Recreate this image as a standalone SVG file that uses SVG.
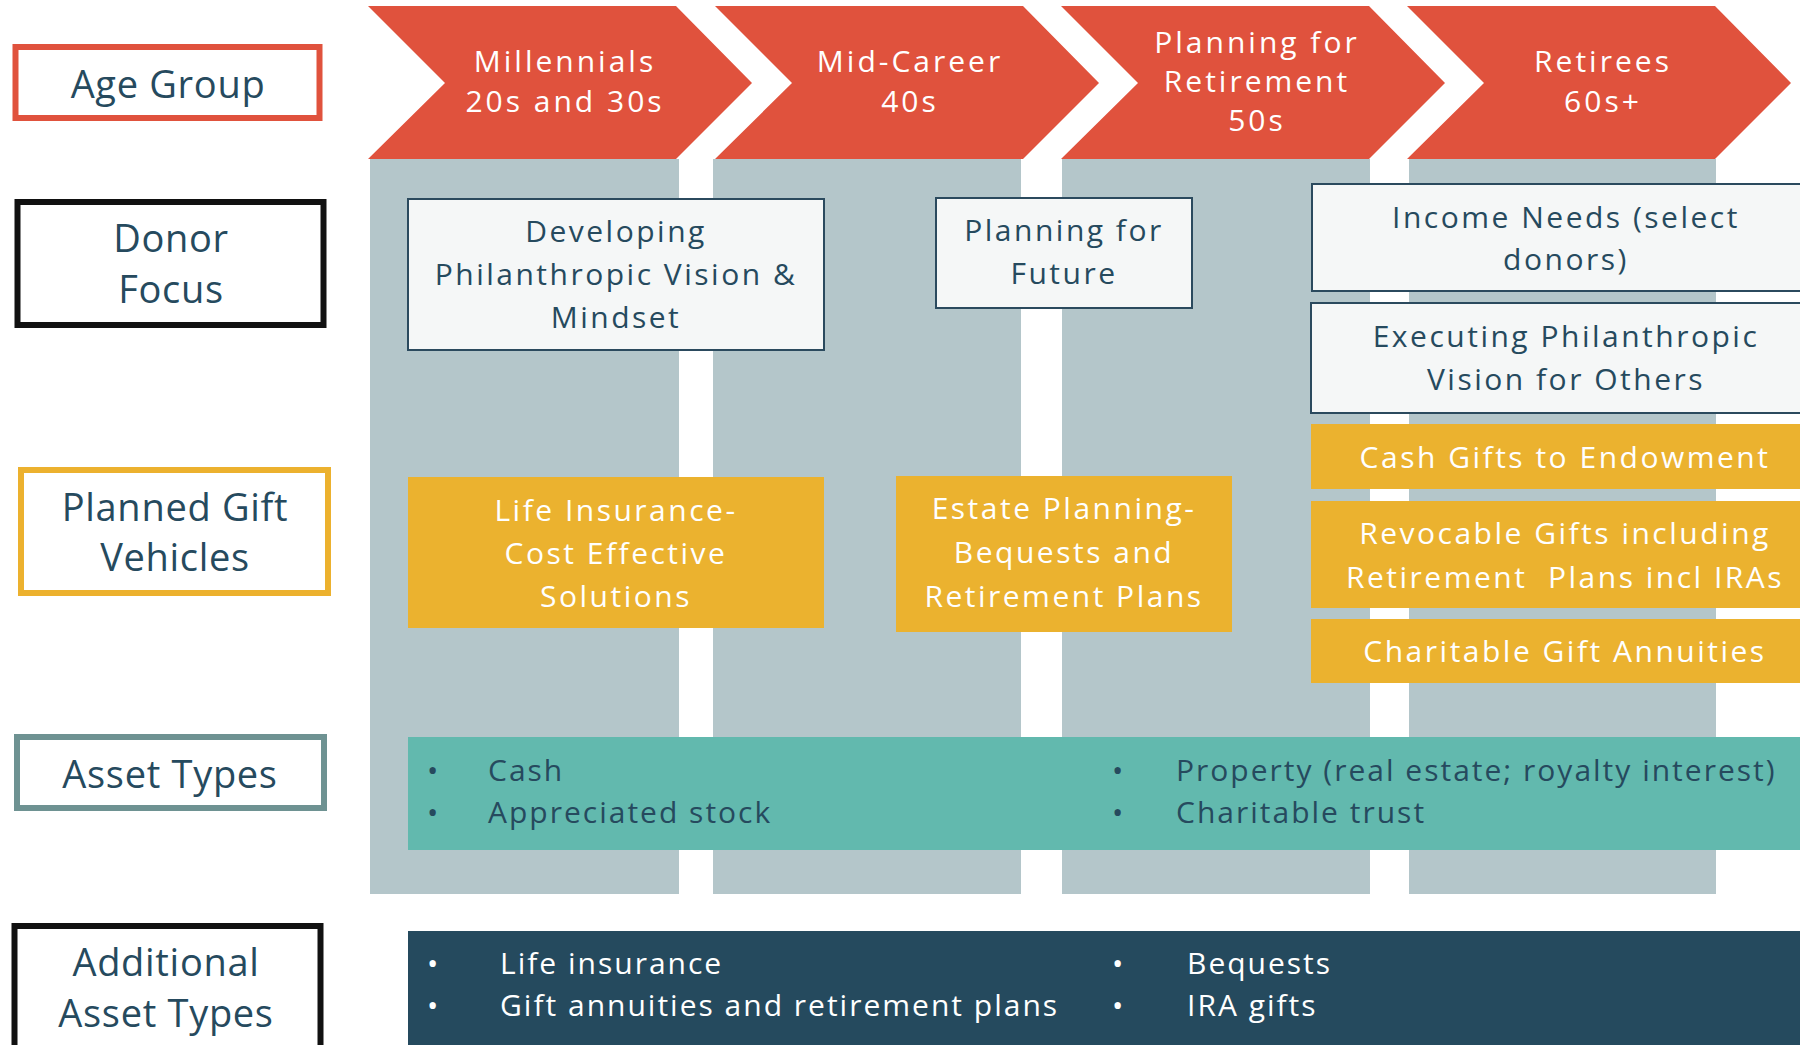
<svg xmlns="http://www.w3.org/2000/svg" width="1800" height="1045" viewBox="0 0 1800 1045">
  <style>
    text { font-family: "Open Sans", "Noto Sans", "Liberation Sans", sans-serif; text-anchor: middle; }
    .chev { fill: #E0523D; }
    .col { fill: #B4C6CA; }
    .lbl { fill: #FFFFFF; stroke-width: 6; }
    .lbl-t { font-size: 38px; fill: #264A5E; letter-spacing: 0.7px; }
    .chev-t { font-size: 30px; fill: #FFFFFF; letter-spacing: 3px; }
    .focus { fill: #F5F7F7; stroke: #2B4A5E; stroke-width: 2; }
    .focus-t { font-size: 30px; fill: #264A5E; letter-spacing: 2.5px; }
    .gift { fill: #EBB22F; }
    .gift-t { font-size: 30px; fill: #FFFFFF; letter-spacing: 2.5px; }
    .bul text { font-size: 30px; text-anchor: start; letter-spacing: 2px; }
  </style>
  <defs>
    <polygon id="chevron" points="0,6 308,6 384,83 308,159 0,159 77,83"/>
  </defs>
  <rect width="1800" height="1045" fill="#FFFFFF"/>

  <!-- age-group chevrons -->
  <g id="chevrons">
    <use href="#chevron" class="chev" x="368"/>
    <use href="#chevron" class="chev" x="715"/>
    <use href="#chevron" class="chev" x="1061"/>
    <use href="#chevron" class="chev" x="1407"/>
  </g>

  <!-- column backdrops under each chevron -->
  <g id="columns">
    <rect class="col" x="370" y="159" width="309" height="735"/>
    <rect class="col" x="713" y="159" width="308" height="735"/>
    <rect class="col" x="1062" y="159" width="308" height="735"/>
    <rect class="col" x="1409" y="159" width="307" height="735"/>
  </g>

  <g id="chevron-labels">
    <g id="age-millennials">
      <text class="chev-t" x="565" y="72">Millennials</text>
      <text class="chev-t" x="565" y="112">20s and 30s</text>
    </g>
    <g id="age-midcareer">
      <text class="chev-t" x="910" y="72">Mid-Career</text>
      <text class="chev-t" x="910" y="112">40s</text>
    </g>
    <g id="age-preretire">
      <text class="chev-t" x="1257" y="53">Planning for</text>
      <text class="chev-t" x="1257" y="92">Retirement</text>
      <text class="chev-t" x="1257" y="131">50s</text>
    </g>
    <g id="age-retirees">
      <text class="chev-t" x="1603" y="72">Retirees</text>
      <text class="chev-t" x="1603" y="112">60s+</text>
    </g>
  </g>

  <!-- row labels -->
  <g id="label-age">
    <rect class="lbl" x="15.5" y="47" width="304" height="71" stroke="#E0523D"/>
    <text class="lbl-t" x="168" y="98">Age Group</text>
  </g>
  <g id="label-focus">
    <rect class="lbl" x="17.5" y="202" width="306" height="123" stroke="#111111"/>
    <text class="lbl-t" x="171" y="252">Donor</text>
    <text class="lbl-t" x="171" y="303">Focus</text>
  </g>
  <g id="label-vehicles">
    <rect class="lbl" x="21" y="470" width="307" height="123" stroke="#ECB12E"/>
    <text class="lbl-t" x="175" y="521">Planned Gift</text>
    <text class="lbl-t" x="175" y="571">Vehicles</text>
  </g>
  <g id="label-assets">
    <rect class="lbl" x="17" y="737" width="307" height="71" stroke="#6E9292"/>
    <text class="lbl-t" x="170" y="788">Asset Types</text>
  </g>
  <g id="label-additional">
    <rect class="lbl" x="14.5" y="926" width="306" height="140" stroke="#111111"/>
    <text class="lbl-t" x="166" y="976">Additional</text>
    <text class="lbl-t" x="166" y="1027">Asset Types</text>
  </g>

  <!-- donor focus boxes -->
  <g id="focus-vision">
    <rect class="focus" x="408" y="199" width="416" height="151"/>
    <text class="focus-t" x="616" y="242">Developing</text>
    <text class="focus-t" x="616" y="285">Philanthropic Vision &amp;</text>
    <text class="focus-t" x="616" y="328">Mindset</text>
  </g>
  <g id="focus-future">
    <rect class="focus" x="936" y="198" width="256" height="110"/>
    <text class="focus-t" x="1064" y="241">Planning for</text>
    <text class="focus-t" x="1064" y="284">Future</text>
  </g>
  <g id="focus-income">
    <rect class="focus" x="1312" y="184" width="510" height="107"/>
    <text class="focus-t" x="1566" y="228">Income Needs (select</text>
    <text class="focus-t" x="1566" y="270">donors)</text>
  </g>
  <g id="focus-executing">
    <rect class="focus" x="1311" y="303" width="510" height="110"/>
    <text class="focus-t" x="1566" y="347">Executing Philanthropic</text>
    <text class="focus-t" x="1566" y="390">Vision for Others</text>
  </g>

  <!-- planned gift vehicles -->
  <g id="gift-life">
    <rect class="gift" x="408" y="477" width="416" height="151"/>
    <text class="gift-t" x="616" y="521">Life Insurance-</text>
    <text class="gift-t" x="616" y="564">Cost Effective</text>
    <text class="gift-t" x="616" y="607">Solutions</text>
  </g>
  <g id="gift-estate">
    <rect class="gift" x="896" y="476" width="336" height="156"/>
    <text class="gift-t" x="1064" y="519">Estate Planning-</text>
    <text class="gift-t" x="1064" y="563">Bequests and</text>
    <text class="gift-t" x="1064" y="607">Retirement Plans</text>
  </g>
  <g id="gift-cash">
    <rect class="gift" x="1311" y="424" width="510" height="65"/>
    <text class="gift-t" x="1565" y="468">Cash Gifts to Endowment</text>
  </g>
  <g id="gift-revocable">
    <rect class="gift" x="1311" y="501" width="510" height="107"/>
    <text class="gift-t" x="1565" y="544">Revocable Gifts including</text>
    <text class="gift-t" x="1565" y="588" xml:space="preserve">Retirement  Plans incl IRAs</text>
  </g>
  <g id="gift-annuities">
    <rect class="gift" x="1311" y="619" width="510" height="64"/>
    <text class="gift-t" x="1565" y="662">Charitable Gift Annuities</text>
  </g>

  <!-- asset type bands -->
  <g id="assets-main">
    <rect x="408" y="737" width="1400" height="113" fill="#62B9AE"/>
    <g class="bul" fill="#264A5E">
      <text x="427" y="781">•</text>
      <text x="488" y="781">Cash</text>
      <text x="427" y="823">•</text>
      <text x="488" y="823">Appreciated stock</text>
      <text x="1112" y="781">•</text>
      <text x="1176" y="781">Property (real estate; royalty interest)</text>
      <text x="1112" y="823">•</text>
      <text x="1176" y="823">Charitable trust</text>
    </g>
  </g>
  <g id="assets-additional">
    <rect x="408" y="931" width="1400" height="114" fill="#254A5E"/>
    <g class="bul" fill="#FFFFFF">
      <text x="427" y="974">•</text>
      <text x="500" y="974">Life insurance</text>
      <text x="427" y="1016">•</text>
      <text x="500" y="1016">Gift annuities and retirement plans</text>
      <text x="1112" y="974">•</text>
      <text x="1187" y="974">Bequests</text>
      <text x="1112" y="1016">•</text>
      <text x="1187" y="1016">IRA gifts</text>
    </g>
  </g>
</svg>
